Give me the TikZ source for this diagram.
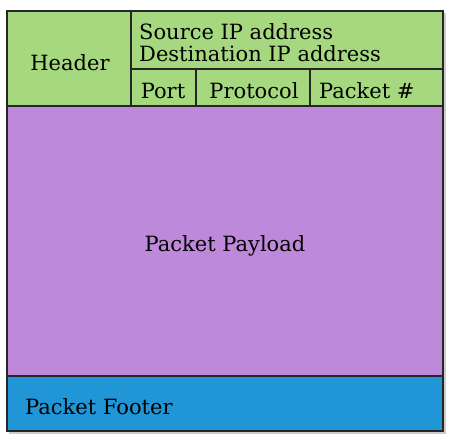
\documentclass[tikz,border=0pt]{standalone}
\usepackage{fontspec}
\setmainfont{DejaVu Serif}
\usepackage{xcolor}
\definecolor{hdrgreen}{RGB}{166,217,127}
\definecolor{loadpurple}{RGB}{190,136,219}
\definecolor{footblue}{RGB}{32,150,214}

\begin{document}
\begin{tikzpicture}[x=1pt, y=-1pt,
  cell/.style={draw=black!85, line width=1.5pt, anchor=north west, inner sep=0pt, outer sep=0pt},
  hdr/.style={cell, fill=hdrgreen},
  load/.style={cell, fill=loadpurple},
  foot/.style={cell, fill=footblue},
  lbl/.style={font=\fontsize{21}{22}\selectfont, inner sep=0pt, anchor=base}
]
\useasboundingbox (0,0) rectangle (453,439);
% soft shadow
\fill[black!20] (9,13) rectangle (446,434);
% header block
\node[hdr, minimum width=124pt, minimum height=95pt] (head) at (7,11) {};
\node[hdr, minimum width=312pt, minimum height=58pt] (addr) at (131,11) {};
\node[hdr, minimum width=65pt, minimum height=37pt] (port) at (131,69) {};
\node[hdr, minimum width=114pt, minimum height=37pt] (proto) at (196,69) {};
\node[hdr, minimum width=133pt, minimum height=37pt] (pnum) at (310,69) {};
% payload and footer
\node[load, minimum width=436pt, minimum height=270pt] (payload) at (7,106) {};
\node[foot, minimum width=436pt, minimum height=55pt] (footer) at (7,376) {};
% texts
\node[lbl] (thead) at (70,70) {Header};
\node[lbl, anchor=base west] (tsrc) at (139,39) {Source IP address};
\node[lbl, anchor=base west] (tdst) at (139,61) {Destination IP address};
\node[lbl] (tport) at (163,98) {Port};
\node[lbl] (tproto) at (254,98) {Protocol};
\node[lbl, anchor=base west] (tpnum) at (319,98) {Packet \#};
\node[lbl] (tload) at (225,251) {Packet Payload};
\node[lbl, anchor=base west] (tfoot) at (25,414) {Packet Footer};
\end{tikzpicture}
\end{document}
